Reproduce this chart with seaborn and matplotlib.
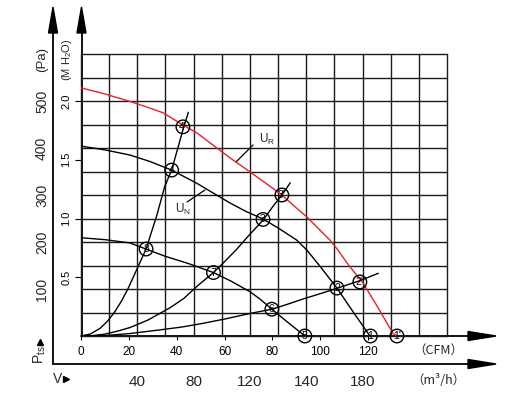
import matplotlib
matplotlib.use("Agg")
import matplotlib.pyplot as plt
import seaborn as sns
import pandas as pd
from matplotlib.transforms import blended_transform_factory
from matplotlib.patches import Polygon

# ---------------- data (CFM, Pa) ----------------
ur_cfm = [0, 10, 20.5, 27, 34.3, 42.6, 48.5, 55, 62.3, 70.7, 77, 84.0, 89, 94.5, 99, 104.1, 107.4, 112, 117.9, 124, 130.4, 132.1]
ur_pa = [528, 515, 499, 488, 475, 449, 432, 407, 379, 349, 326, 300, 277, 253, 230, 204, 183, 150, 113, 62, 6, 0]

un_cfm = [0, 10, 20.5, 29, 37.9, 48.4, 55, 62.3, 69, 76.1, 83, 90.2, 94.4, 100, 107.0, 113.7, 120.8]
un_pa = [404, 396, 385, 371, 353, 325, 305, 283, 265, 249, 228, 204, 183, 148, 102, 52, 0]

ul_cfm = [0, 10, 20.5, 27.2, 35, 45, 55.4, 63, 70.7, 75, 79.8, 86, 93.6]
ul_pa = [209, 205, 198, 185, 170, 154, 135, 116, 94, 78, 57, 31, 0]

s1_cfm = [0, 3.8, 7.9, 11, 14.2, 17, 19.6, 23, 27.2, 31.6, 35, 37.9, 40.5, 42.8, 44.9]
s1_pa = [0, 4, 16, 31, 52, 75, 100, 138, 185, 255, 318, 353, 400, 442, 476]

s2_cfm = [0, 5, 10, 15, 20.5, 28, 37.2, 43, 49, 55.4, 60, 65, 70, 76.2, 80, 84.0, 87.5]
s2_pa = [0, 1, 4, 10, 18, 34, 60, 80, 108, 135, 158, 184, 213, 247, 274, 300, 326]

s3_cfm = [0, 10, 20, 33, 42, 50, 60, 70.7, 79.8, 86, 93, 100, 107.1, 112, 116.6, 124.3]
s3_pa = [0, 1, 5, 13, 19, 26, 36, 48, 57, 67, 79, 90, 101.5, 110, 117.7, 133.4]

pt_cfm = [132.1, 116.6, 84.0, 42.6, 121.0, 107.0, 76.1, 37.9, 93.6, 79.8, 55.4, 27.2]
pt_pa = [0, 115, 300, 445, 0, 102, 248, 353, 0, 57, 135, 185]
pt_labels = ["1'", "2'", "3'", "4'", "1", "2", "3", "4", "5", "6", "7", "8"]

grid_m3h = list(range(0, 261, 20))
grid_pa = list(range(0, 601, 50))
cfm_ticks = [0, 20, 40, 60, 80, 100, 120]
mh2o_ticks = [0.5, 1.0, 1.5, 2.0]
pa_ticks = [100, 200, 300, 400, 500]
m3h_pos = [40, 80, 120, 160, 200]
m3h_labels = ["40", "80", "120", "140", "180"]
M3H_PER_CFM = 1.699
PA_PER_MH2O = 250

# ---------------- figure ----------------
W, H = 521, 403
sns.set_style("white")
plt.rcParams['font.family'] = ['Liberation Sans', 'DejaVu Sans']
plt.rcParams['mathtext.fontset'] = 'custom'
plt.rcParams['mathtext.rm'] = 'Liberation Sans'
plt.rcParams['mathtext.it'] = 'Liberation Sans:italic'

fig = plt.figure(figsize=(W / 100, H / 100), dpi=100)
ov = fig.add_axes([0, 0, 1, 1])
ov.set_xlim(0, W)
ov.set_ylim(H, 0)
ov.axis('off')

ax = fig.add_axes([81 / W, 67 / H, 366 / W, 282 / H])
ax.set_facecolor('none')
ax.set_xlim(0, 260 / M3H_PER_CFM)
ax.set_ylim(0, 600)
for s in ax.spines.values():
    s.set_visible(False)

# grid
for g in grid_m3h:
    ax.axvline(g / M3H_PER_CFM, color='#1a1a1a', lw=1.0, zorder=1, clip_on=False)
for g in grid_pa:
    ax.axhline(g, color='#1a1a1a', lw=1.0, zorder=1, clip_on=False)

# curves
curves = [
    (ur_cfm, ur_pa, '#e8212a'),
    (un_cfm, un_pa, 'black'),
    (ul_cfm, ul_pa, 'black'),
    (s1_cfm, s1_pa, 'black'),
    (s2_cfm, s2_pa, 'black'),
    (s3_cfm, s3_pa, 'black'),
]
for cx, cy, col in curves:
    df = pd.DataFrame({'cfm': cx, 'pa': cy})
    sns.lineplot(data=df, x='cfm', y='pa', sort=False, estimator=None,
                 color=col, lw=1.0, ax=ax, zorder=3)

pts = pd.DataFrame({'cfm': pt_cfm, 'pa': pt_pa})
sns.scatterplot(data=pts, x='cfm', y='pa', s=95, facecolor='none',
                edgecolor='black', linewidth=1.0, ax=ax, zorder=4, clip_on=False)
for x, y, lab in zip(pt_cfm, pt_pa, pt_labels):
    ax.text(x, y, lab, ha='center', va='center', fontsize=7.5, zorder=6,
            color='black', clip_on=False)

ax.set_xlabel('')
ax.set_ylabel('')

# x ticks (CFM)
ax.set_xticks(cfm_ticks)
ax.set_xticklabels([str(t) for t in cfm_ticks])
ax.tick_params(axis='x', bottom=True, direction='out', length=3, width=0.8,
               pad=4, labelsize=8.5, colors='black')
# y ticks (M H2O)
ax.set_yticks([v * PA_PER_MH2O for v in mh2o_ticks])
ax.set_yticklabels([f"{v:.1f}" for v in mh2o_ticks])
ax.tick_params(axis='y', left=True, direction='out', length=4, width=0.8,
               pad=3, labelsize=8, labelrotation=90, colors='black')
for lab in ax.get_yticklabels():
    lab.set_va('center')

# ---------------- decorations in pixel space ----------------
lw_ax = 1.3
ov.plot([53, 53], [30, 364], color='black', lw=lw_ax)
ov.plot([53, 470], [364, 364], color='black', lw=lw_ax)
ov.plot([81.5, 81.5], [30, 336], color='black', lw=lw_ax)
ov.plot([81, 470], [336, 336], color='black', lw=lw_ax)
for tri in ([(53, 7), (48.5, 33), (57.5, 33)],
            [(81.5, 7), (77, 33), (86, 33)],
            [(496, 336), (468, 331.5), (468, 340.5)],
            [(496, 364), (468, 359.5), (468, 368.5)]):
    ov.add_patch(Polygon(tri, closed=True, color='black'))

tr = blended_transform_factory(ov.transData, ax.transData)
for p in pa_ticks:
    ov.text(42, p, str(p), transform=tr, rotation=90, ha='center', va='center', fontsize=10)
ov.text(42, 60, '(Pa)', rotation=90, ha='center', va='center', fontsize=9.5)
ov.text(67, 60, '(M H$_2$O)', rotation=90, ha='center', va='center', fontsize=8)

ov.text(40, 355, r'P$_{\mathrm{ts}}$', rotation=90, ha='center', va='center', fontsize=10)
ov.plot([40], [341.5], marker='^', color='black', ms=4.5)
ov.text(58, 379, 'V', ha='center', va='center', fontsize=10)
ov.plot([66], [379], marker='>', color='black', ms=4.5)

trx = blended_transform_factory(ax.transData, ov.transData)
for m, lab in zip(m3h_pos, m3h_labels):
    ov.text(m / M3H_PER_CFM, 382, lab, transform=trx, ha='center', va='center', fontsize=11)

ov.text(438, 350, '（CFM）', ha='center', va='center', fontsize=9,
        family=['Noto Sans CJK SC', 'Liberation Sans'])
ov.text(438, 380, '（m³/h）', ha='center', va='center', fontsize=9,
        family=['Noto Sans CJK SC', 'Liberation Sans'])

# curve labels
ov.text(259, 143, r'U$_{\mathrm{R}}$', ha='left', va='baseline', fontsize=8.5)
ov.plot([253, 236], [145, 162], color='black', lw=0.9)
ov.text(175, 213, r'U$_{\mathrm{N}}$', ha='left', va='baseline', fontsize=8.5)
ov.plot([187, 205], [202, 190], color='black', lw=0.9)

fig.savefig('out.png', dpi=100)
